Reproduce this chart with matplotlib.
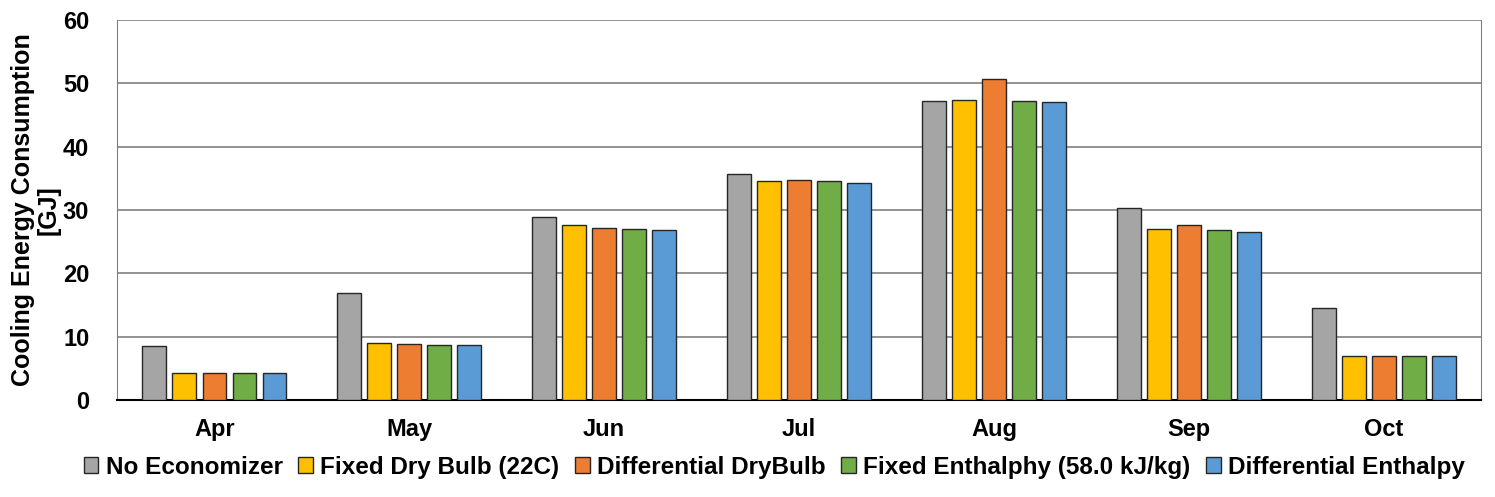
import matplotlib
matplotlib.use("Agg")
import matplotlib.pyplot as plt
import numpy as np

plt.rcParams['font.family'] = ['Liberation Sans', 'DejaVu Sans']
plt.rcParams['font.weight'] = 'bold'

months = ["Apr", "May", "Jun", "Jul", "Aug", "Sep", "Oct"]
series_names = ["No Economizer", "Fixed Dry Bulb (22C)", "Differential DryBulb",
                "Fixed Enthalphy (58.0 kJ/kg)", "Differential Enthalpy"]
no_economizer = [8.5, 16.9, 28.9, 35.7, 47.15, 30.25, 14.6]
fixed_dry_bulb = [4.3, 8.95, 27.6, 34.6, 47.4, 27.05, 6.9]
diff_dry_bulb = [4.3, 8.8, 27.1, 34.7, 50.6, 27.6, 6.9]
fixed_enthalpy = [4.3, 8.75, 27.0, 34.65, 47.15, 26.8, 6.9]
diff_enthalpy = [4.3, 8.7, 26.9, 34.3, 47.1, 26.6, 6.9]
all_series = [no_economizer, fixed_dry_bulb, diff_dry_bulb, fixed_enthalpy, diff_enthalpy]
colors = ["#A5A5A5", "#FFC000", "#ED7D31", "#70AD47", "#5B9BD5"]

fig = plt.figure(figsize=(14.95, 4.97), dpi=100)
ax = fig.add_axes([0.0783, 0.195, 0.9124, 0.765])

x = np.arange(len(months))
step = 0.154
width = 0.123
for i, (vals, name, col) in enumerate(zip(all_series, series_names, colors)):
    ax.bar(x + (i - 2) * step, vals, width, color=col, edgecolor="#262626",
           linewidth=1.0, label=name, zorder=3)

ax.set_xlim(-0.5, len(months) - 0.5)
ax.set_ylim(0, 60)
ax.set_yticks(range(0, 61, 10))
ax.set_xticks(x)
ax.set_xticklabels(months)
ax.tick_params(axis='both', labelsize=17, length=0)
ax.tick_params(axis='x', pad=13)
ax.tick_params(axis='y', pad=20)
for lbl in ax.get_xticklabels() + ax.get_yticklabels():
    lbl.set_fontweight('bold')

ax.grid(axis='y', color="#808080", linewidth=1.2, zorder=0)
ax.spines['top'].set_visible(False)
ax.spines['left'].set_color("#808080")
ax.spines['right'].set_color("#808080")
ax.spines['bottom'].set_color("black")
ax.spines['bottom'].set_linewidth(1.5)

ax.set_ylabel("Cooling Energy Consumption\n[GJ]", fontsize=18, fontweight='bold',
              linespacing=1.05, labelpad=2)

leg = fig.legend(loc='center', bbox_to_anchor=(0.518, 0.06), ncol=5, frameon=False,
                 prop={'size': 17.5, 'weight': 'bold'}, handlelength=0.6,
                 handleheight=0.6, handletextpad=0.3, columnspacing=0.65)

fig.savefig("out.png", dpi=100)
